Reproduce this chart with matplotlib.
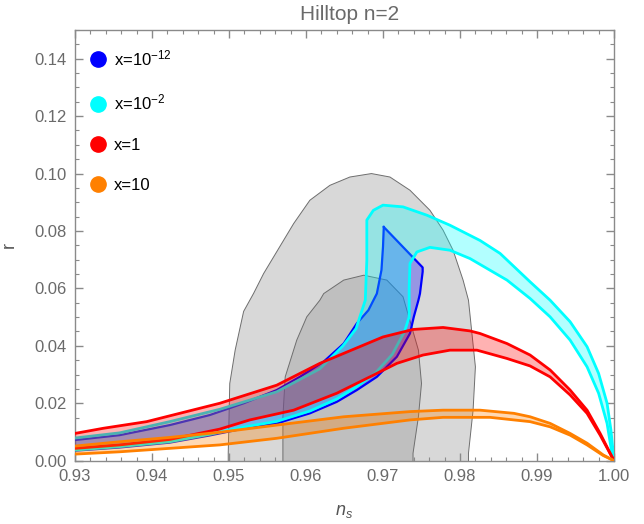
import matplotlib
matplotlib.use("Agg")
import matplotlib.pyplot as plt
from matplotlib.lines import Line2D

plt.rcParams['font.family'] = ['Liberation Sans', 'DejaVu Sans']
plt.rcParams['mathtext.fontset'] = 'custom'
plt.rcParams['mathtext.rm'] = 'Liberation Sans'
plt.rcParams['mathtext.it'] = 'Liberation Sans:italic'

# Planck contours (95% and 68%)
outer_x = [0.9499, 0.9499, 0.9501, 0.9508, 0.9519, 0.9532, 0.9545, 0.9558, 0.9584, 0.9605,
           0.9631, 0.9657, 0.9685, 0.9709, 0.9735, 0.9761, 0.9778, 0.9791, 0.9804, 0.9811,
           0.9820, 0.9817, 0.9811, 0.9811]
outer_y = [-0.005, 0.0026, 0.0269, 0.0385, 0.0520, 0.0583, 0.0652, 0.0710, 0.0826, 0.0907,
           0.0959, 0.0988, 0.1000, 0.0988, 0.0942, 0.0872, 0.0803, 0.0733, 0.0629, 0.0559,
           0.0327, 0.0176, 0.0026, -0.005]
inner_x = [0.9570, 0.9570, 0.9570, 0.9573, 0.9588, 0.9601, 0.9618, 0.9623, 0.9649, 0.9675,
           0.9705, 0.9726, 0.9746, 0.9750, 0.9746, 0.9739, 0.9739]
inner_y = [-0.005, 0.0026, 0.0153, 0.0292, 0.0420, 0.0501, 0.0559, 0.0582, 0.0629, 0.0646,
           0.0629, 0.0571, 0.0385, 0.0269, 0.0153, 0.0026, -0.005]

# x = 10^-12
blue_up_x = [0.9300, 0.9358, 0.9423, 0.9475, 0.9519, 0.9562, 0.9592, 0.9623, 0.9649, 0.9666,
             0.9681, 0.9692, 0.9698, 0.9700, 0.9701]
blue_up_y = [0.0072, 0.0089, 0.0124, 0.0159, 0.0200, 0.0246, 0.0292, 0.0345, 0.0408, 0.0478,
             0.0524, 0.0582, 0.0664, 0.0745, 0.0814]
blue_lo_x = [0.9300, 0.9358, 0.9423, 0.9475, 0.9519, 0.9562, 0.9605, 0.9640, 0.9666, 0.9692,
             0.9718, 0.9735, 0.9740, 0.9746, 0.9748, 0.97515, 0.97515, 0.9701]
blue_lo_y = [0.0035, 0.0046, 0.0063, 0.0088, 0.0112, 0.0130, 0.0165, 0.0205, 0.0246, 0.0292,
             0.0362, 0.0443, 0.0501, 0.0559, 0.0582, 0.0658, 0.0673, 0.0814]

# x = 10^-2
cyan_up_x = [0.9300, 0.9358, 0.9423, 0.9488, 0.9562, 0.9618, 0.9648, 0.9665, 0.9677, 0.9679,
             0.9679, 0.96875, 0.9700, 0.9726, 0.9757, 0.9787, 0.9826, 0.9852, 0.9891, 0.9917,
             0.9943, 0.9965, 0.9980, 0.9991, 0.9996, 1.0000]
cyan_up_y = [0.0079, 0.0097, 0.0136, 0.0179, 0.0240, 0.0320, 0.0400, 0.0460, 0.0559, 0.0698,
             0.0838, 0.0872, 0.0890, 0.0884, 0.0855, 0.0820, 0.0767, 0.0722, 0.0623, 0.0559,
             0.0484, 0.0397, 0.0304, 0.0200, 0.0107, 0.0000]
cyan_lo_x = [0.9300, 0.9358, 0.9423, 0.9475, 0.9519, 0.9562, 0.9605, 0.9640, 0.9666, 0.9690,
             0.9712, 0.9728, 0.9734, 0.9734, 0.9735, 0.9744, 0.9761, 0.9787, 0.9813, 0.9861,
             0.9891, 0.9917, 0.9943, 0.9965, 0.9980, 0.9991, 0.9998, 1.0000]
cyan_lo_y = [0.0037, 0.0049, 0.0066, 0.0092, 0.0117, 0.0137, 0.0173, 0.0215, 0.0258, 0.0305,
             0.0370, 0.0450, 0.0501, 0.0605, 0.0687, 0.0727, 0.0743, 0.0733, 0.0704, 0.0629,
             0.0565, 0.0501, 0.0420, 0.0327, 0.0235, 0.0130, 0.0014, 0.0000]

# x = 1
red_up_x = [0.9300, 0.9337, 0.9393, 0.9436, 0.9488, 0.9562, 0.9618, 0.9700, 0.9739, 0.9778,
            0.9813, 0.9826, 0.9861, 0.9891, 0.9917, 0.9943, 0.9965, 0.9982, 0.9995, 1.0000]
red_up_y = [0.0095, 0.0113, 0.0136, 0.0165, 0.0200, 0.0263, 0.0339, 0.0431, 0.0457, 0.0464,
            0.0452, 0.0443, 0.0408, 0.0368, 0.0316, 0.0246, 0.0176, 0.0095, 0.0026, 0.0000]
red_lo_x = [0.9300, 0.9358, 0.9423, 0.9488, 0.9527, 0.9584, 0.9640, 0.9683, 0.9718, 0.9752,
            0.9787, 0.9822, 0.9861, 0.9891, 0.9917, 0.9943, 0.9965, 0.9982, 1.0000]
red_lo_y = [0.0043, 0.0055, 0.0074, 0.0110, 0.0142, 0.0176, 0.0235, 0.0292, 0.0339, 0.0368,
            0.0385, 0.0385, 0.0356, 0.0330, 0.0292, 0.0229, 0.0165, 0.0089, 0.0000]

# x = 10
orange_up_x = [0.9300, 0.9358, 0.9423, 0.9488, 0.9562, 0.9649, 0.9735, 0.9778, 0.9826, 0.9870,
               0.9891, 0.9917, 0.9943, 0.9965, 0.9986, 1.0000]
orange_up_y = [0.0051, 0.0066, 0.0081, 0.0099, 0.0124, 0.0153, 0.0171, 0.0176, 0.0176, 0.0165,
               0.0153, 0.0130, 0.0095, 0.0061, 0.0020, 0.0000]
orange_lo_x = [0.9300, 0.9358, 0.9423, 0.9488, 0.9562, 0.9649, 0.9735, 0.9778, 0.9839, 0.9870,
               0.9891, 0.9917, 0.9943, 0.9965, 0.9986, 1.0000]
orange_lo_y = [0.0023, 0.0031, 0.0043, 0.0055, 0.0078, 0.0113, 0.0142, 0.0151, 0.0151, 0.0142,
               0.0136, 0.0118, 0.0089, 0.0055, 0.0018, 0.0000]

labels = [r'x=$10^{-12}$', r'x=$10^{-2}$', 'x=1', 'x=10']
colors = ['#0000FF', '#00FFFF', '#FF0000', '#FF8000']

bands = [
    (blue_up_x, blue_up_y, blue_lo_x, blue_lo_y, 1.6),
    (cyan_up_x, cyan_up_y, cyan_lo_x, cyan_lo_y, 2.0),
    (red_up_x, red_up_y, red_lo_x, red_lo_y, 2.0),
    (orange_up_x, orange_up_y, orange_lo_x, orange_lo_y, 2.0),
]

fig = plt.figure(figsize=(6.44, 5.24), dpi=100)
ax = fig.add_axes([75 / 644, 1 - 460.7 / 524, 539 / 644, 430.7 / 524])

ax.fill(outer_x, outer_y, facecolor='#D8D8D8', edgecolor='#6E6E6E', lw=0.7, zorder=1)
ax.fill(inner_x, inner_y, facecolor='#BFBFBF', edgecolor='#6E6E6E', lw=0.7, zorder=2)

z = 3
for (ux, uy, lx, ly, lw), c in zip(bands, colors):
    ax.fill(ux + lx[::-1], uy + ly[::-1], facecolor=c, alpha=0.3, lw=0, zorder=z)
    ax.plot(ux, uy, color=c, lw=lw, zorder=z + 1, solid_joinstyle='round')
    ax.plot(lx, ly, color=c, lw=lw, zorder=z + 1, solid_joinstyle='round')
    z += 2

ax.set_xlim(0.93, 1.00)
ax.set_ylim(0, 0.15)
ax.set_xticks([0.93, 0.94, 0.95, 0.96, 0.97, 0.98, 0.99, 1.00])
ax.set_xticklabels(['0.93', '0.94', '0.95', '0.96', '0.97', '0.98', '0.99', '1.00'])
ax.set_yticks([0.00, 0.02, 0.04, 0.06, 0.08, 0.10, 0.12, 0.14])
ax.set_yticklabels(['0.00', '0.02', '0.04', '0.06', '0.08', '0.10', '0.12', '0.14'])
ax.set_xticks([0.93 + 0.002 * i for i in range(36)], minor=True)
ax.set_yticks([0.005 * i for i in range(31)], minor=True)

gray = '#8A8A8A'
for s in ax.spines.values():
    s.set_color(gray)
    s.set_linewidth(1.0)
ax.tick_params(which='both', direction='in', top=True, right=True, color=gray,
               labelcolor='#6A6A6A', labelsize=12)
ax.tick_params(which='major', length=6, width=1.0, pad=6)
ax.tick_params(which='minor', length=3, width=0.8)

ax.set_xlabel(r'$n_s$', fontsize=13, color='#555555', labelpad=14)
ax.set_ylabel('r', fontsize=13, color='#555555', labelpad=12)
fig.text(350 / 644, 1 - 14 / 524, 'Hilltop n=2', ha='center', va='center',
         fontsize=15, color='#6A6A6A')

handles = [Line2D([], [], marker='o', ls='', color=c, markersize=11) for c in colors]
ax.legend(handles, labels, loc='upper left', bbox_to_anchor=(0.027, 0.958),
          frameon=False, fontsize=12, handlelength=1.0, handletextpad=0.45,
          labelspacing=1.5, borderpad=0, borderaxespad=0)

fig.savefig('out.png', dpi=100)
